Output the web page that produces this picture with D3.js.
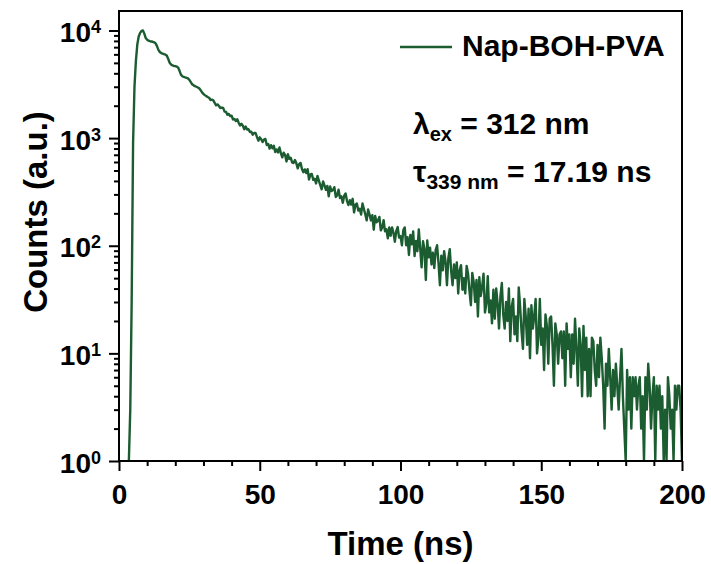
<!DOCTYPE html>
<html lang="en">
<head>
<meta charset="UTF-8">
<title>Nap-BOH-PVA decay</title>
<script src="https://cdn.jsdelivr.net/npm/d3@7/dist/d3.min.js"></script>
<style>
  body { margin: 0; background: #fff; }
  svg text { font-family: "Liberation Sans", Arial, sans-serif; font-weight: bold; fill: #000; }
</style>
</head>
<body>
<div id="vis"></div>
<script>

// decay histogram, channels of 0.5 ns starting at 3.5 ns
var channelStart = 3.5;
var channelWidth = 0.5;
var counts = [
  1, 3, 30, 900, 3000, 5200, 7400, 8800, 9500, 9900,            // 3.5
  10000, 9350, 8500, 8200, 8040, 7950, 7900, 7850, 7760, 7590,  // 8.5
  7160, 6610, 6310, 6170, 6100, 6030, 5970, 5820, 5430, 5010,   // 13.5
  4820, 4730, 4680, 4660, 4620, 4520, 4220, 3890, 3760, 3700,   // 18.5
  3660, 3630, 3590, 3470, 3310, 3160, 3090, 3040, 3000, 2950,   // 23.5
  2900, 2790, 2660, 2570, 2510, 2455, 2410, 2371, 2261, 2277,   // 28.5
  2245, 2124, 2016, 2057, 1989, 1906, 1923, 1907, 1764, 1754,   // 33.5
  1648, 1679, 1601, 1617, 1490, 1507, 1442, 1497, 1390, 1311,   // 38.5
  1357, 1305, 1210, 1282, 1203, 1209, 1139, 1148, 1074, 1119,   // 43.5
  1119, 1026, 947, 1016, 977, 919, 970, 983, 864, 883,          // 48.5
  799, 859, 804, 850, 742, 785, 736, 818, 725, 662,             // 53.5
  733, 696, 607, 708, 641, 658, 594, 587, 626, 583,             // 58.5
  524, 572, 588, 517, 482, 512, 473, 515, 412, 460,             // 63.5
  464, 409, 419, 379, 446, 403, 366, 334, 395, 364,             // 68.5
  331, 360, 288, 355, 322, 329, 350, 284, 295, 332,             // 73.5
  278, 288, 251, 292, 306, 260, 239, 265, 241, 273,             // 78.5
  204, 241, 247, 212, 221, 195, 247, 219, 195, 172,             // 83.5
  217, 195, 172, 192, 141, 189, 165, 171, 185, 139,             // 88.5
  147, 173, 136, 142, 117, 148, 124, 148, 132, 109,             // 93.5
  137, 149, 119, 123, 101, 140, 148, 101, 120, 82,              // 98.5
  126, 103, 136, 80, 111, 89, 142, 94, 63, 110,                 // 103.5
  94, 48, 112, 78, 96, 67, 86, 62, 91, 101,                     // 108.5
  69, 43, 81, 59, 89, 71, 43, 77, 93, 58,                       // 113.5
  43, 67, 50, 70, 36, 59, 66, 39, 50, 36,                       // 118.5
  65, 55, 38, 28, 56, 46, 30, 48, 22, 51,                       // 123.5
  34, 41, 55, 24, 29, 52, 24, 31, 19, 39,                       // 128.5
  21, 40, 29, 17, 34, 45, 23, 17, 30, 20,                       // 133.5
  40, 13, 27, 32, 15, 22, 13, 41, 27, 16,                       // 138.5
  11, 32, 22, 12, 26, 9, 28, 17, 22, 32,                        // 143.5
  10, 14, 32, 12, 17, 7, 23, 18, 8, 21,                         // 148.5
  22, 12, 5, 19, 15, 8, 15, 16, 9, 16,                          // 153.5
  5, 19, 11, 15, 6, 15, 8, 21, 11, 5,                           // 158.5
  17, 12, 4, 18, 7, 14, 4, 11, 4, 14,                           // 163.5
  13, 7, 5, 12, 6, 14, 9, 5, 2, 8,                              // 168.5
  5, 11, 6, 3, 7, 4, 8, 5, 3, 6,                                // 173.5
  11, 4, 2, 0, 7, 3, 6, 2, 6, 4,                                // 178.5
  6, 3, 5, 6, 2, 4, 0, 6, 3, 8,                                 // 183.5
  5, 2, 4, 6, 0, 5, 3, 5, 2, 4,                                 // 188.5
  0, 3, 0, 6, 4, 2, 3, 0, 5, 3,                                 // 193.5
  5, 5, 3, 0                                                    // 198.5
];

var xTicks = [0, 50, 100, 150, 200];
var xMinorTicks = [10, 20, 30, 40, 60, 70, 80, 90, 110, 120, 130, 140, 160, 170, 180, 190];
var yTicks = [1, 10, 100, 1000, 10000];
var seriesName = "Nap-BOH-PVA";
var lineColor = "#1b5c30";

var width = 711;
var height = 564;

var margin = {
  top: 11,
  left: 119,
  right: 29,
  bottom: 103
};

var innerW = width - margin.left - margin.right;
var innerH = height - margin.top - margin.bottom;

var svg = d3.select("#vis")
    .append("svg")
    .attr("width", width)
    .attr("height", height);

var g = svg.append("g")
    .attr("transform", "translate(" + margin.left + "," + margin.top + ")");

var x_scale = d3.scaleLinear()
    .domain([0, 200])
    .range([0, innerW]);

var y_scale = d3.scaleLog()
    .domain([1, 15170])
    .range([innerH, 0])
    .clamp(true);

// minor y ticks: 2..9 in every decade
var yMinor = [];
yTicks.forEach(function(d) {
    for (var k = 2; k <= 9; k++) {
        if (d * k < 15170) yMinor.push(d * k);
    }
});

svg.append("defs").append("clipPath")
    .attr("id", "plotclip")
    .append("rect")
    .attr("width", innerW)
    .attr("height", innerH + 1);

var data = counts.map(function(c, i) {
    return { t: channelStart + i * channelWidth, c: c };
});

var line = d3.line()
    .x(function(d) { return x_scale(d.t); })
    .y(function(d) { return y_scale(Math.max(d.c, 0.5)); });

g.append("path")
    .datum(data)
    .attr("clip-path", "url(#plotclip)")
    .attr("fill", "none")
    .attr("stroke", lineColor)
    .attr("stroke-width", 2.4)
    .attr("stroke-linejoin", "round")
    .attr("d", line);

// axes
var x_axis = d3.axisBottom(x_scale)
    .tickValues(xTicks)
    .tickSize(10)
    .tickSizeOuter(0)
    .tickPadding(14)
    .tickFormat(d3.format("d"));

var x_minor = d3.axisBottom(x_scale)
    .tickValues(xMinorTicks)
    .tickSize(5)
    .tickSizeOuter(0)
    .tickFormat("");

var y_axis = d3.axisLeft(y_scale)
    .tickValues(yTicks)
    .tickSize(10)
    .tickSizeOuter(0)
    .tickPadding(8);

var y_minor = d3.axisLeft(y_scale)
    .tickValues(yMinor)
    .tickSize(5)
    .tickSizeOuter(0)
    .tickFormat("");

g.append("g").attr("class", "x axis").attr("transform", "translate(0," + innerH + ")").call(x_axis);
g.append("g").attr("class", "x minor").attr("transform", "translate(0," + innerH + ")").call(x_minor);
g.append("g").attr("class", "y axis").call(y_axis);
g.append("g").attr("class", "y minor").call(y_minor);

g.selectAll(".axis path, .minor path").remove();
g.selectAll(".axis line, .minor line").attr("stroke", "#000").attr("stroke-width", 2);
g.selectAll(".x.axis text").attr("font-size", "28px").attr("dy", "0.68em");

g.selectAll(".y.axis .tick text").each(function(d) {
    var t = d3.select(this);
    t.text(null).attr("font-size", "28px").attr("dy", "0.4em");
    t.append("tspan").text("10");
    t.append("tspan").attr("dy", -9).attr("font-size", "18px").text(Math.round(Math.log10(d)));
});

// frame
g.append("rect")
    .attr("width", innerW)
    .attr("height", innerH)
    .attr("fill", "none")
    .attr("stroke", "#000")
    .attr("stroke-width", 2);

// axis titles
svg.append("text")
    .attr("x", margin.left + innerW / 2)
    .attr("y", 555)
    .attr("text-anchor", "middle")
    .attr("font-size", "33px")
    .text("Time (ns)");

svg.append("text")
    .attr("transform", "translate(47,212) rotate(-90)")
    .attr("text-anchor", "middle")
    .attr("font-size", "33px")
    .text("Counts (a.u.)");

// legend
svg.append("line")
    .attr("x1", 400).attr("x2", 452)
    .attr("y1", 47).attr("y2", 47)
    .attr("stroke", lineColor)
    .attr("stroke-width", 2.4);

svg.append("text")
    .attr("x", 462).attr("y", 56)
    .attr("font-size", "30px")
    .text(seriesName);

// annotations
var lam = svg.append("text").attr("x", 413).attr("y", 134).attr("font-size", "30px");
lam.append("tspan").text("λ");
lam.append("tspan").attr("dy", 7).attr("font-size", "20px").text("ex");
lam.append("tspan").attr("dy", -7).text(" = 312 nm");

var tau = svg.append("text").attr("x", 413).attr("y", 182).attr("font-size", "30px");
tau.append("tspan").text("τ");
tau.append("tspan").attr("dy", 7).attr("font-size", "21px").text("339 nm");
tau.append("tspan").attr("dy", -7).text(" = 17.19 ns");

</script>
</body>
</html>
